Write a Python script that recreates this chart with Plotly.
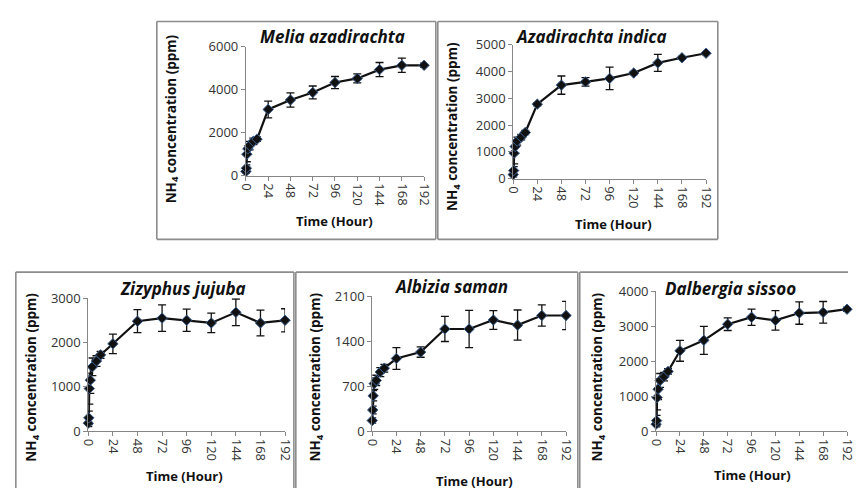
import plotly.graph_objects as go

W, H = 858, 497

hours = [0, 0.5, 1, 2, 4, 8, 12, 24, 48, 72, 96, 120, 144, 168, 192]
x_ticks = [0, 24, 48, 72, 96, 120, 144, 168, 192]

species = ["Melia azadirachta", "Azadirachta indica", "Zizyphus jujuba",
           "Albizia saman", "Dalbergia sissoo"]

melia = [200, 350, 1000, 1250, 1400, 1600, 1700, 3080, 3520, 3870, 4330, 4520, 4930, 5130, 5130]
melia_err = [80, 150, 350, 250, 200, 150, 100, 390, 330, 300, 280, 210, 330, 330, 100]

azad = [150, 300, 950, 1200, 1400, 1550, 1720, 2780, 3490, 3610, 3740, 3940, 4320, 4510, 4680]
azad_err = [80, 150, 400, 250, 150, 100, 80, 60, 340, 160, 420, 60, 320, 50, 60]

ziz = [180, 300, 960, 1150, 1450, 1580, 1720, 1970, 2480, 2550, 2500, 2440, 2680, 2440, 2500]
ziz_err = [80, 150, 350, 300, 200, 120, 80, 220, 260, 300, 250, 220, 300, 290, 260]

alb = [165, 330, 550, 740, 790, 920, 980, 1130, 1230, 1590, 1590, 1730, 1650, 1800, 1800]
alb_err = [40, 60, 80, 90, 80, 70, 60, 170, 80, 195, 290, 145, 235, 165, 220]

dal = [200, 300, 960, 1200, 1450, 1560, 1710, 2300, 2600, 3060, 3260, 3170, 3380, 3400, 3490]
dal_err = [80, 150, 350, 300, 200, 120, 80, 300, 400, 180, 230, 280, 320, 310, 60]

series = [melia, azad, ziz, alb, dal]
errors = [melia_err, azad_err, ziz_err, alb_err, dal_err]
y_max = [6000, 5000, 3000, 2100, 4000]
y_dtick = [2000, 1000, 1000, 700, 1000]

# pixel layout of each plot area: (left, right, top, bottom)
areas = [(243, 425, 39, 173), (516, 713, 37, 176), (82, 283, 300, 438),
         (372, 570, 298, 438), (662, 857, 293, 438)]
# panel frames: (left, right, top, bottom or None when open at the bottom)
borders = [(152, 437, 13, 239), (439, 725, 13, 239), (8, 292, 273, None),
           (294, 582, 273, None), (584, None, 273, None)]
title_pos = [(331, 29), (595, 29), (179, 290), (453, 288), (738, 290)]
ytitle_pos = [(167, 114), (454, 122), (25, 382), (315, 382), (603, 382)]
xtitle_pos = [(333, 220), (618, 223), (180, 485), (477, 490), (760, 483)]


def px(x):
    return x / W


def py(y):
    return 1 - y / H


FONT = "'Open Sans', sans-serif"
fig = go.Figure()
annotations = []
shapes = []


def seg(x0, y0, x1, y1):
    shapes.append(dict(type="line", xref="paper", yref="paper",
                       x0=px(x0), y0=py(y0), x1=px(x1), y1=py(y1),
                       line=dict(color="#8c8c8c", width=1.6)))


for i in range(5):
    n = i + 1
    xa = "x" if n == 1 else f"x{n}"
    ya = "y" if n == 1 else f"y{n}"
    fig.add_trace(go.Scatter(
        x=hours, y=series[i], xaxis=xa, yaxis=ya, mode="lines+markers",
        line=dict(color="#111111", width=2.2),
        marker=dict(symbol="diamond", size=8, color="#111111",
                    line=dict(color="#3d5f8f", width=1)),
        error_y=dict(type="data", array=errors[i], visible=True,
                     color="#111111", thickness=1.3, width=4),
        cliponaxis=False, showlegend=False))
    l, r, t, b = areas[i]
    common = dict(showgrid=False, zeroline=False, showline=True,
                  linecolor="#868686", linewidth=1, ticks="outside",
                  ticklen=4, tickcolor="#868686",
                  tickfont=dict(family=FONT, size=13, color="#333333"))
    fig.layout[f"xaxis{'' if n == 1 else n}"] = dict(
        domain=[px(l), px(r)], anchor=ya, range=[0, 192],
        tickvals=x_ticks, tickangle=90, **common)
    fig.layout[f"yaxis{'' if n == 1 else n}"] = dict(
        domain=[py(b), py(t)], anchor=xa, range=[0, y_max[i]],
        dtick=y_dtick[i], tick0=0, **common)
    tx, ty = title_pos[i]
    annotations.append(dict(
        x=px(tx), y=py(ty), xref="paper", yref="paper", showarrow=False,
        text=f"<b><i>{species[i]}</i></b>",
        font=dict(family=FONT, size=17, color="#111111"),
        xanchor="center", yanchor="middle"))
    yx, yy = ytitle_pos[i]
    annotations.append(dict(
        x=px(yx), y=py(yy), xref="paper", yref="paper", showarrow=False,
        text="<b>NH<sub>4</sub> concentration (ppm)</b>", textangle=-90,
        font=dict(family=FONT, size=13.5, color="#111111"),
        xanchor="center", yanchor="middle"))
    xx, xy = xtitle_pos[i]
    annotations.append(dict(
        x=px(xx), y=py(xy), xref="paper", yref="paper", showarrow=False,
        text="<b>Time (Hour)</b>",
        font=dict(family=FONT, size=13, color="#111111"),
        xanchor="center", yanchor="middle"))
    bl, br, bt, bb = borders[i]
    seg(bl, bt, br if br is not None else W, bt)
    seg(bl, bt, bl, bb if bb is not None else H)
    if br is not None:
        seg(br, bt, br, bb if bb is not None else H)
    if bb is not None:
        seg(bl, bb, br, bb)

fig.update_layout(
    width=W, height=H, margin=dict(l=0, r=0, t=0, b=0),
    paper_bgcolor="white", plot_bgcolor="white",
    annotations=annotations, shapes=shapes)

fig.write_html("out.html")
